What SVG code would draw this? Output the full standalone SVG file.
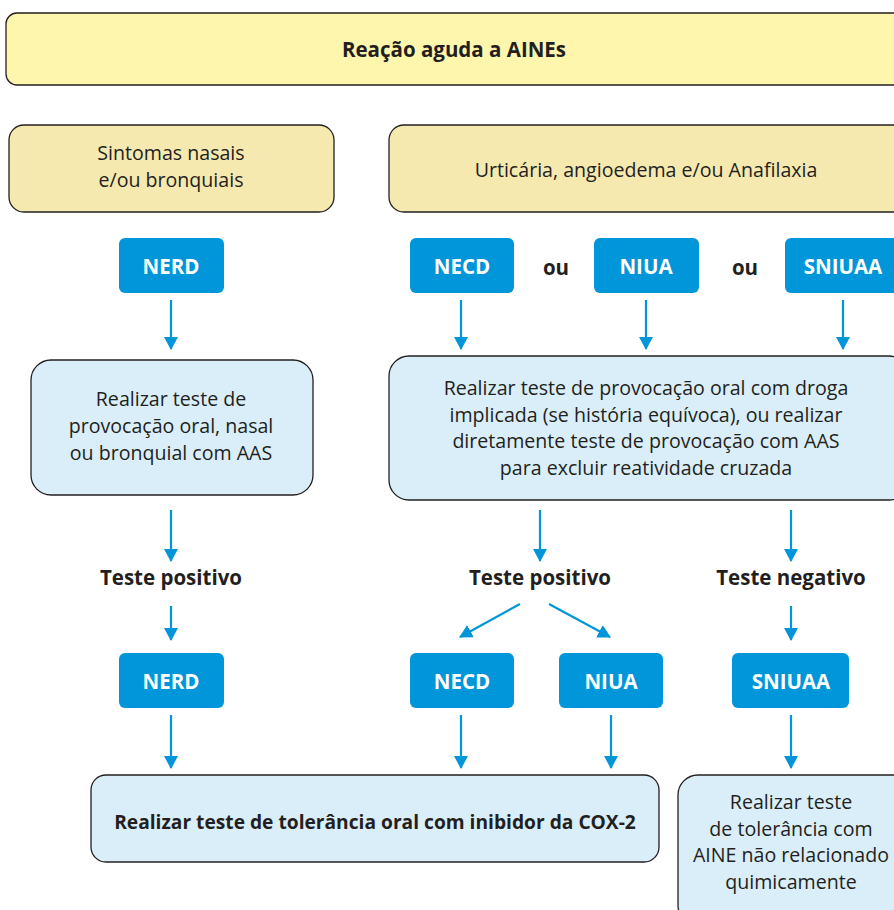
<svg xmlns="http://www.w3.org/2000/svg" width="894" height="910" viewBox="0 0 894 910">
  <defs>
    <marker id="ah" markerWidth="13" markerHeight="14" viewBox="0 0 13 14" refX="12" refY="7" orient="auto" markerUnits="userSpaceOnUse">
      <path d="M0,0 L13,7 L0,14 Z" fill="#0096d9"/>
    </marker>
    <style>
      .t { font-family: "Open Sans", "Noto Sans", sans-serif; fill: #231f20; text-anchor: middle; }
      .n { font-size: 19.6px; }
      .b { font-size: 20.5px; font-weight: bold; }
      .w { font-family: "Open Sans", "Noto Sans", sans-serif; font-size: 20.5px; font-weight: bold; fill: #ffffff; text-anchor: middle; }
      .yl { fill: #fff6ae; stroke: #231f20; stroke-width: 1.3; }
      .bg { fill: #f5e9b0; stroke: #231f20; stroke-width: 1.3; }
      .lb { fill: #d9eef9; stroke: #231f20; stroke-width: 1.3; }
      .tag { fill: #0096d9; }
      .c line { stroke: #0096d9; stroke-width: 2.2; marker-end: url(#ah); }
    </style>
  </defs>
  <rect width="894" height="910" fill="#ffffff"/>

  <g id="title">
    <rect class="yl" x="6" y="13" width="900" height="72" rx="11"/>
    <text class="t b" x="454" y="57">Reação aguda a AINEs</text>
  </g>

  <g id="sintomas">
    <rect class="bg" x="9" y="125" width="325" height="87" rx="15"/>
    <text class="t n" x="171" y="160">Sintomas nasais</text>
    <text class="t n" x="171" y="187">e/ou bronquiais</text>
  </g>

  <g id="urticaria">
    <rect class="bg" x="389" y="125" width="520" height="87" rx="15"/>
    <text class="t n" x="646" y="177">Urticária, angioedema e/ou Anafilaxia</text>
  </g>

  <g id="nerd1">
    <rect class="tag" x="119" y="238" width="105" height="55" rx="6"/>
    <text class="w" x="171" y="274">NERD</text>
  </g>
  <g id="necd1">
    <rect class="tag" x="410" y="238" width="104" height="55" rx="6"/>
    <text class="w" x="462" y="274">NECD</text>
  </g>
  <g id="ou1"><text class="t b" x="556" y="275">ou</text></g>
  <g id="niua1">
    <rect class="tag" x="594" y="238" width="105" height="55" rx="6"/>
    <text class="w" x="646" y="274">NIUA</text>
  </g>
  <g id="ou2"><text class="t b" x="745" y="275">ou</text></g>
  <g id="sniuaa1">
    <rect class="tag" x="785" y="238" width="120" height="55" rx="6"/>
    <text class="w" x="843" y="274">SNIUAA</text>
  </g>

  <g id="prov-left">
    <rect class="lb" x="31" y="360" width="282" height="135" rx="20"/>
    <text class="t n" x="171" y="406">Realizar teste de</text>
    <text class="t n" x="171" y="433">provocação oral,  nasal</text>
    <text class="t n" x="171" y="460">ou bronquial com AAS</text>
  </g>

  <g id="prov-right">
    <rect class="lb" x="389" y="356" width="520" height="144" rx="20"/>
    <text class="t n" x="646" y="395">Realizar teste de provocação oral com droga</text>
    <text class="t n" x="646" y="422">implicada (se história equívoca), ou realizar</text>
    <text class="t n" x="646" y="448">diretamente teste de provocação com AAS</text>
    <text class="t n" x="646" y="475">para excluir reatividade cruzada</text>
  </g>

  <g id="pos-left"><text class="t b" x="171" y="585">Teste positivo</text></g>
  <g id="pos-mid"><text class="t b" x="540" y="585">Teste positivo</text></g>
  <g id="neg-right"><text class="t b" x="791" y="585">Teste negativo</text></g>

  <g id="nerd2">
    <rect class="tag" x="119" y="653" width="105" height="55" rx="6"/>
    <text class="w" x="171" y="689">NERD</text>
  </g>
  <g id="necd2">
    <rect class="tag" x="410" y="653" width="104" height="55" rx="6"/>
    <text class="w" x="462" y="689">NECD</text>
  </g>
  <g id="niua2">
    <rect class="tag" x="559" y="653" width="104" height="55" rx="6"/>
    <text class="w" x="611" y="689">NIUA</text>
  </g>
  <g id="sniuaa2">
    <rect class="tag" x="732" y="653" width="117" height="55" rx="6"/>
    <text class="w" x="791" y="689">SNIUAA</text>
  </g>

  <g id="cox2">
    <rect class="lb" x="91" y="775" width="568" height="87" rx="15"/>
    <text class="t b" x="375" y="829" style="font-size:19.2px">Realizar teste de tolerância oral com inibidor da COX-2</text>
  </g>

  <g id="aine">
    <rect class="lb" x="678" y="775" width="240" height="150" rx="20"/>
    <text class="t n" x="791" y="809">Realizar teste</text>
    <text class="t n" x="791" y="836">de tolerância com</text>
    <text class="t n" x="791" y="862">AINE não relacionado</text>
    <text class="t n" x="791" y="889">quimicamente</text>
  </g>

  <g id="connectors" class="c">
    <line x1="171" y1="300" x2="171" y2="349"/>
    <line x1="461" y1="300" x2="461" y2="349"/>
    <line x1="646" y1="300" x2="646" y2="349"/>
    <line x1="843" y1="300" x2="843" y2="349"/>
    <line x1="171" y1="510" x2="171" y2="561"/>
    <line x1="540" y1="510" x2="540" y2="561"/>
    <line x1="791" y1="510" x2="791" y2="561"/>
    <line x1="171" y1="606" x2="171" y2="640"/>
    <line x1="791" y1="606" x2="791" y2="640"/>
    <line x1="520" y1="604" x2="460" y2="637"/>
    <line x1="549" y1="604" x2="610" y2="637"/>
    <line x1="171" y1="715" x2="171" y2="768"/>
    <line x1="461" y1="715" x2="461" y2="768"/>
    <line x1="611" y1="715" x2="611" y2="768"/>
    <line x1="791" y1="715" x2="791" y2="768"/>
  </g>
</svg>
